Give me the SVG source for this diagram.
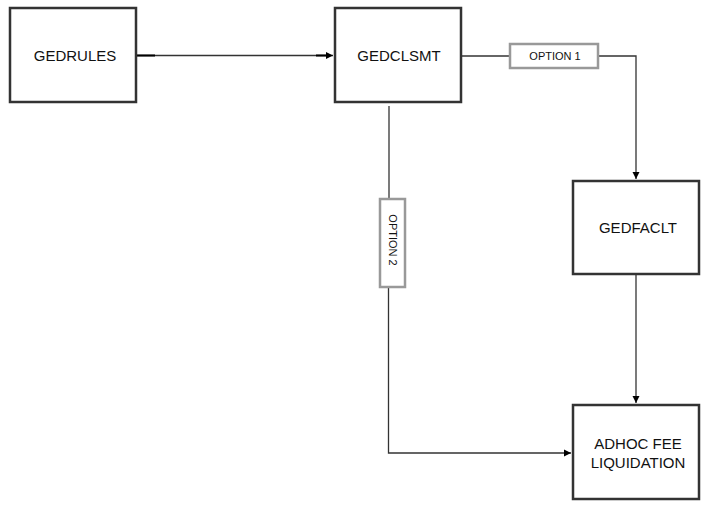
<svg xmlns="http://www.w3.org/2000/svg" width="710" height="513" viewBox="0 0 710 513">
<style>
.box{fill:#fff;stroke:#333;stroke-width:2.5}
.lbl{fill:#fff;stroke:#999;stroke-width:2.5}
.t{font-family:"Liberation Sans",Arial,sans-serif;font-size:15px;fill:#111;text-anchor:middle}
.s{font-family:"Liberation Sans",Arial,sans-serif;font-size:11px;fill:#111;text-anchor:middle}
.c{fill:none;stroke:#333;stroke-width:1.3}
</style>
<defs>
<marker id="arr" markerWidth="8" markerHeight="8" refX="7" refY="4" orient="auto" markerUnits="userSpaceOnUse">
<path d="M0,0.5 L7,4 L0,7.5 Z" fill="#000"/>
</marker>
</defs>
<rect width="710" height="513" fill="#fff"/>
<g id="connectors">
<path class="c" d="M136,55.5 H333" marker-end="url(#arr)"/>
<path d="M137,55.5 H155 M316,55.5 H327" stroke="#000" stroke-width="2" fill="none"/>
<path class="c" d="M462,56 H509"/>
<path class="c" d="M599,56 H636 V179" marker-end="url(#arr)"/>
<path class="c" d="M636,275 V403" marker-end="url(#arr)"/>
<path class="c" d="M389,106 V199"/>
<path class="c" d="M388.5,288 V453 H571" marker-end="url(#arr)"/>
</g>
<g id="GEDRULES">
<rect class="box" x="10" y="8" width="126" height="94"/>
<text class="t" x="75" y="61">GEDRULES</text>
</g>
<g id="GEDCLSMT">
<rect class="box" x="335" y="8" width="126" height="94"/>
<text class="t" x="399" y="61">GEDCLSMT</text>
</g>
<g id="OPTION1">
<rect class="lbl" x="510" y="44" width="88" height="24"/>
<text class="s" x="555" y="60">OPTION 1</text>
</g>
<g id="GEDFACLT">
<rect class="box" x="573" y="181" width="126" height="93"/>
<text class="t" x="638" y="233">GEDFACLT</text>
</g>
<g id="OPTION2">
<rect class="lbl" x="380" y="199" width="25" height="88"/>
<text class="s" transform="translate(388.5,240) rotate(90)" x="0" y="0">OPTION 2</text>
</g>
<g id="ADHOC">
<rect class="box" x="573" y="405" width="126" height="94"/>
<text class="t" x="638" y="449">ADHOC FEE</text>
<text class="t" x="638" y="468">LIQUIDATION</text>
</g>
</svg>
